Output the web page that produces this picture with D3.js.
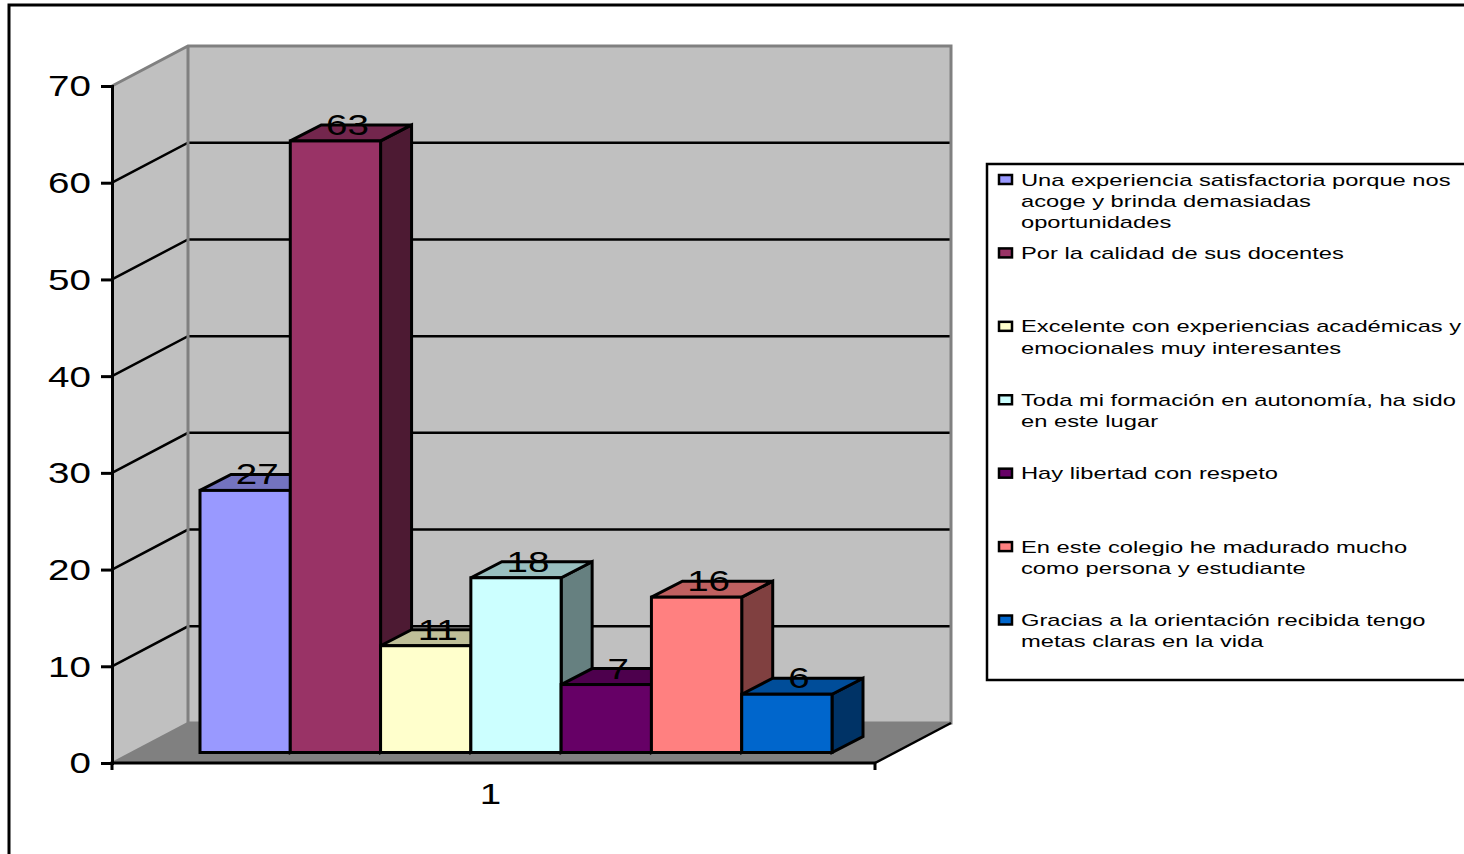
<!DOCTYPE html>
<html>
<head>
<meta charset="utf-8">
<script src="https://cdn.jsdelivr.net/npm/d3@7"></script>
<style>
  html, body { margin: 0; padding: 0; background: #fff; overflow: hidden; }
  text { font-family: "Liberation Sans", Arial, sans-serif; fill: #000; }
</style>
</head>
<body>
<script>
const seriesIds = ["a", "b", "c", "d", "e", "f", "g"];
const values = [27, 63, 11, 18, 7, 16, 6];
const colors = ["#9999ff", "#993366", "#ffffcc", "#ccffff", "#660066", "#ff8080", "#0066cc"];
const legendLines = [
  ["Una experiencia satisfactoria porque nos", "acoge y brinda demasiadas", "oportunidades"],
  ["Por la calidad de sus docentes"],
  ["Excelente con experiencias académicas y", "emocionales muy interesantes"],
  ["Toda mi formación en autonomía, ha sido", "en este lugar"],
  ["Hay libertad con respeto"],
  ["En este colegio he madurado mucho", "como persona y estudiante"],
  ["Gracias a la orientación recibida tengo", "metas claras en la vida"]
];
const yTicks = [0, 10, 20, 30, 40, 50, 60, 70];
const categories = ["1"];

const w = 1464, h = 854;
const stretch = 1.33;   // the original picture is squashed wide, text included

const svg = d3.select("body").append("svg")
  .attr("width", w).attr("height", h).style("display", "block");

// outer chart border, runs off the page on the right and bottom
svg.append("rect").attr("x", 9).attr("y", 5).attr("width", w + 20).attr("height", h + 20)
  .attr("fill", "#fff").attr("stroke", "#000").attr("stroke-width", 3);

// 3 planes of the box: axis plane, bar plane, back wall
const yAxisScale = d3.scaleLinear().domain([0, 70]).range([763, 86]);
const yBack = d3.scaleLinear().domain([0, 70]).range([723, 46]);
const yBar = d3.scaleLinear().domain([0, 70]).range([752.5, 73]);
const xAxisScale = d3.scaleBand().domain(categories).range([112, 875]);
const xBar = d3.scaleBand().domain(seriesIds).range([200, 832]);

const x0 = xAxisScale.range()[0], x1 = xAxisScale.range()[1];
const depthX = 76, backX0 = x0 + depthX, backX1 = x1 + depthX;
const barDX = 31, barDY = 16;
const line = d3.line();

// floor and walls
svg.append("path").attr("fill", "#808080")
  .attr("d", line([[x0, yAxisScale(0)], [x1, yAxisScale(0)], [backX1, yBack(0)], [backX0, yBack(0)]]) + "Z");
svg.append("path").attr("fill", "#c0c0c0")
  .attr("d", line([[x0, yAxisScale(0)], [x0, yAxisScale(70)], [backX0, yBack(70)], [backX0, yBack(0)]]) + "Z");
svg.append("rect").attr("fill", "#c0c0c0")
  .attr("x", backX0).attr("y", yBack(70))
  .attr("width", backX1 - backX0).attr("height", yBack(0) - yBack(70));

// gridlines
const gridVals = yTicks.filter(d => d > 0 && d < 70);
svg.append("g").selectAll("path").data(gridVals).join("path")
  .attr("fill", "none").attr("stroke", "#000").attr("stroke-width", 2.5)
  .attr("d", d => line([[x0, yAxisScale(d)], [backX0, yBack(d)], [backX1, yBack(d)]]));

// wall edges
svg.append("path").attr("fill", "none").attr("stroke", "#808080").attr("stroke-width", 3)
  .attr("d", line([[x0, yAxisScale(70)], [backX0, yBack(70)], [backX1, yBack(70)], [backX1, yBack(0)], [backX0, yBack(0)], [backX0, yBack(70)]]));
svg.append("path").attr("fill", "none").attr("stroke", "#808080").attr("stroke-width", 2)
  .attr("d", line([[x0, yAxisScale(0)], [backX0, yBack(0)]]));
svg.append("path").attr("fill", "none").attr("stroke", "#000").attr("stroke-width", 2.5)
  .attr("d", line([[x1, yAxisScale(0)], [backX1, yBack(0)]]));

// bars, painted left to right so each one covers its neighbour's side
const shade = (c, k) => { const r = d3.rgb(c); return d3.rgb(r.r * k, r.g * k, r.b * k).formatHex(); };
const bars = svg.append("g").attr("stroke", "#000").attr("stroke-width", 3).attr("stroke-linejoin", "miter")
  .selectAll("g").data(values).join("g");
bars.append("path").attr("fill", (d, i) => shade(colors[i], 0.5))
  .attr("d", (d, i) => {
    const r = xBar(seriesIds[i]) + xBar.bandwidth();
    return line([[r, yBar(d)], [r + barDX, yBar(d) - barDY], [r + barDX, yBar(0) - barDY], [r, yBar(0)]]) + "Z";
  });
bars.append("path").attr("fill", (d, i) => shade(colors[i], 0.75))
  .attr("d", (d, i) => {
    const l = xBar(seriesIds[i]), r = l + xBar.bandwidth();
    return line([[l, yBar(d)], [l + barDX, yBar(d) - barDY], [r + barDX, yBar(d) - barDY], [r, yBar(d)]]) + "Z";
  });
bars.append("rect").attr("fill", (d, i) => colors[i])
  .attr("x", (d, i) => xBar(seriesIds[i])).attr("y", d => yBar(d))
  .attr("width", xBar.bandwidth()).attr("height", d => yBar(0) - yBar(d));

// axes
const yAxis = d3.axisLeft(yAxisScale).tickValues(yTicks).tickSize(11).tickPadding(0);
const gy = svg.append("g").attr("transform", `translate(${x0},0)`).call(yAxis);
const xAxis = d3.axisBottom(xAxisScale).tickSize(0).tickPadding(0);
const gx = svg.append("g").attr("transform", `translate(0,${yAxisScale(0)})`).call(xAxis);
[gy, gx].forEach(g => {
  g.select(".domain").attr("stroke", "#000").attr("stroke-width", 3);
  g.selectAll(".tick line").attr("stroke", "#000").attr("stroke-width", 3);
});
gx.select(".domain").attr("d", `M${x0},7V0H${x1}V7`);
gy.selectAll(".tick text")
  .attr("font-size", 29).attr("text-anchor", "end").attr("x", 0).attr("dy", "0.34em")
  .attr("transform", `translate(-21,0) scale(${stretch},1)`);
gx.selectAll(".tick text")
  .attr("font-size", 29).attr("text-anchor", "middle").attr("y", 0).attr("dy", 0)
  .attr("transform", `translate(-3,41) scale(${stretch},1)`);

// data labels on top of everything
svg.append("g").selectAll("text").data(values).join("text")
  .attr("font-size", 29).attr("text-anchor", "middle")
  .attr("transform", (d, i) => `translate(${xBar(seriesIds[i]) + xBar.bandwidth() / 2 + 12},${yBar(d) - 6}) scale(${stretch},1)`)
  .text(d => d);

// legend
svg.append("rect").attr("x", 987).attr("y", 164).attr("width", w).attr("height", 516)
  .attr("fill", "#fff").attr("stroke", "#000").attr("stroke-width", 2.5);
const yLegend = d3.scalePoint().domain(seriesIds).range([179.5, 620]);
const items = svg.append("g").selectAll("g").data(legendLines).join("g")
  .attr("transform", (d, i) => `translate(0,${yLegend(seriesIds[i])})`);
items.append("rect").attr("x", 999).attr("y", -4.5).attr("width", 13).attr("height", 9)
  .attr("fill", (d, i) => colors[i]).attr("stroke", "#000").attr("stroke-width", 2.5);
items.selectAll("text").data(d => d).join("text")
  .attr("font-size", 17)
  .attr("transform", (d, j) => `translate(1021,${6 + j * 21.4}) scale(1.395,1)`)
  .text(d => d);
</script>
</body>
</html>
